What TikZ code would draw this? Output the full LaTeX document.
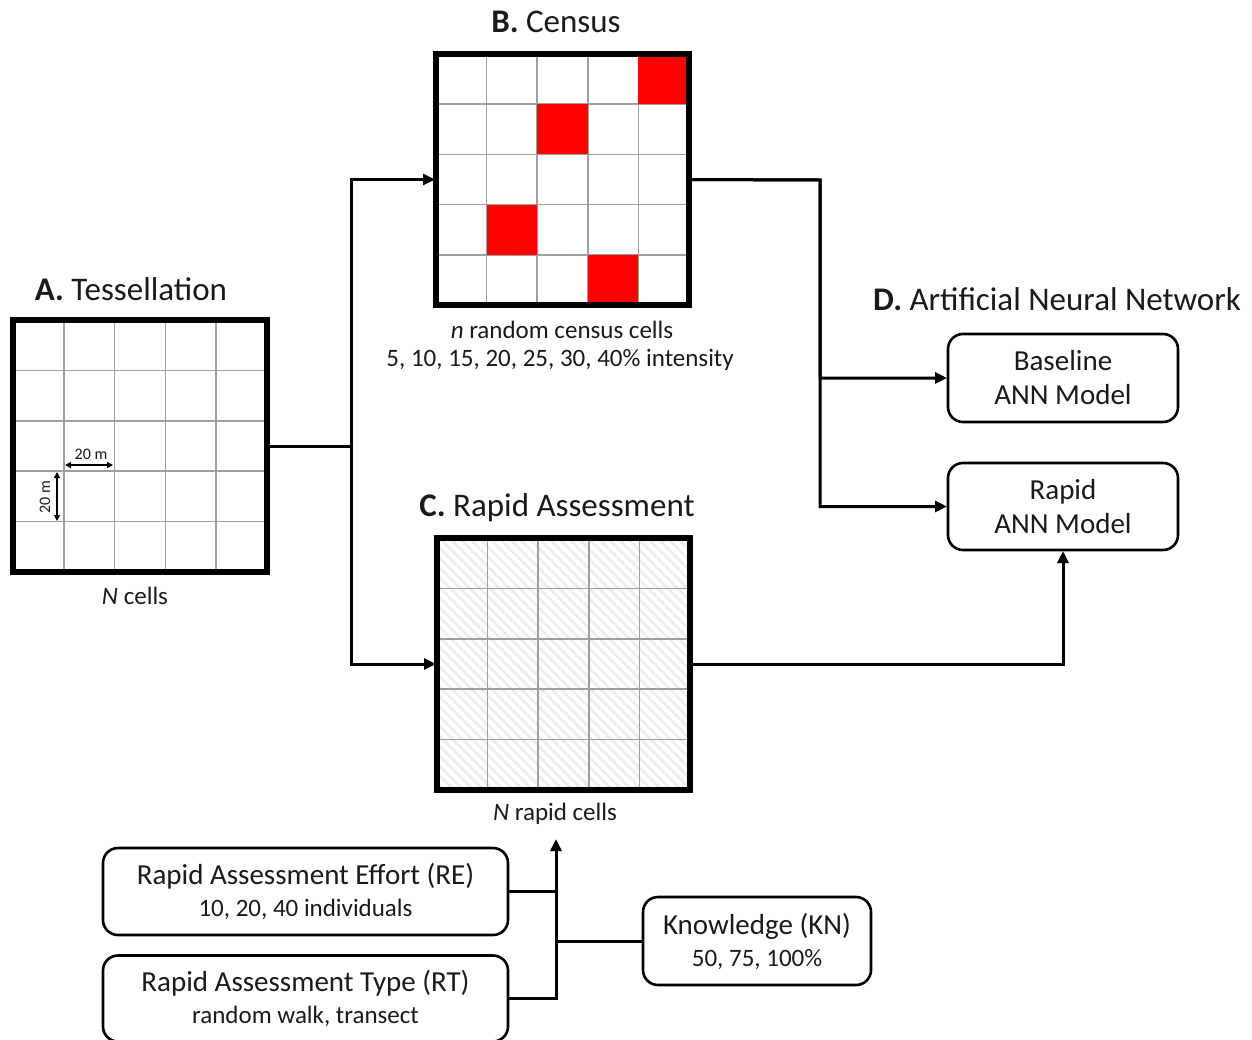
\documentclass[tikz,border=0pt]{standalone}
\usepackage{fontspec}
\setmainfont{Carlito}
\usetikzlibrary{arrows.meta,patterns.meta,calc}
\definecolor{txt}{HTML}{1A1A1A}
\begin{document}
\begin{tikzpicture}[x=1pt,y=-1pt,
  every node/.style={text=txt},
  conn/.style={line width=3pt},
  arr/.style={conn,-{Triangle[length=12pt,width=11pt]},shorten >=1pt},
  frame/.style={line width=5.5pt},
  gridbox/.style={inner sep=0pt,outer sep=0pt},
  gridl/.style={draw=gray!75,line width=1.6pt},
  rbox/.style={draw,line width=2.6pt,rounded corners=15pt,align=center,inner sep=0pt,outer sep=0pt},
  titletext/.style={font=\fontsize{33}{38}\selectfont},
  captext/.style={font=\fontsize{25}{30}\selectfont},
  bigtext/.style={font=\fontsize{29}{34}\selectfont},
  boxtext/.style={font=\fontsize{29}{32}\selectfont},
  dimtext/.style={font=\fontsize{16}{18}\selectfont},
  dimarrow/.style={line width=1.5pt,{Triangle[length=6pt,width=6pt]}-{Triangle[length=6pt,width=6pt]}},
  redcell/.style={fill=red}]
\useasboundingbox (0,0) rectangle (1252,1039);

% ---------- A. Tessellation ----------
\node[gridbox,minimum width=254pt,minimum height=252pt] (A) at (140,446) {};
\fill[white] (A.north west) rectangle (A.south east);
\foreach \i in {1,...,4}{
  \draw[gridl] ($(A.north west)+(\i*50.8,0)$) -- ++(0,252);
  \draw[gridl] ($(A.north west)+(0,\i*50.4)$) -- ++(254,0);
}
\draw[frame] (A.north west) rectangle (A.south east);
\node[titletext] (Atitle) at (131,289) {\textbf{A.} Tessellation};
\node[captext] (Acap) at (135,596) {\textit{N} cells};
\coordinate (dh1) at (65,465); \coordinate (dh2) at (113,465);
\draw[dimarrow] (dh1) -- (dh2);
\node[dimtext] (dhl) at (91,454) {20 m};
\coordinate (dv1) at (57,472); \coordinate (dv2) at (57,521);
\draw[dimarrow] (dv1) -- (dv2);
\node[dimtext,rotate=90] (dvl) at (45,497) {20 m};

% ---------- B. Census ----------
\node[gridbox,minimum width=253pt,minimum height=251pt] (B) at (562.5,179.5) {};
\fill[white] (B.north west) rectangle (B.south east);
\foreach \i in {1,...,4}{
  \draw[gridl] ($(B.north west)+(\i*50.6,0)$) -- ++(0,251);
  \draw[gridl] ($(B.north west)+(0,\i*50.2)$) -- ++(253,0);
}
\foreach \c/\r in {4/0,2/1,1/3,3/4}{
  \fill[redcell] ($(B.north west)+(\c*50.6,\r*50.2)$) rectangle ++(50.6,50.2);
}
\draw[frame] (B.north west) rectangle (B.south east);
\node[titletext] (Btitle) at (556,22) {\textbf{B.} Census};
\node[captext] (Bcap1) at (562,330) {\textit{n} random census cells};
\node[captext] (Bcap2) at (560,360) {5, 10, 15, 20, 25, 30, 40\% intensity};

% ---------- C. Rapid Assessment ----------
\node[gridbox,minimum width=253pt,minimum height=252pt] (C) at (563.5,664) {};
\fill[white] (C.north west) rectangle (C.south east);
\fill[pattern={Lines[angle=-45,distance=7pt,line width=2.6pt]},pattern color=gray!14]
  (C.north west) rectangle (C.south east);
\foreach \i in {1,...,4}{
  \draw[gridl] ($(C.north west)+(\i*50.6,0)$) -- ++(0,252);
  \draw[gridl] ($(C.north west)+(0,\i*50.4)$) -- ++(253,0);
}
\draw[frame] (C.north west) rectangle (C.south east);
\node[titletext] (Ctitle) at (557,508) {\textbf{C.} Rapid Assessment};
\node[captext] (Ccap) at (555,814) {\textit{N} rapid cells};

% ---------- D. ANN ----------
\node[titletext] (Dtitle) at (1057,299) {\textbf{D.} Artificial Neural Network};
\node[rbox,bigtext,minimum width=230pt,minimum height=88pt] (base) at (1063,378) {Baseline\\ANN Model};
\node[rbox,bigtext,minimum width=230pt,minimum height=87pt] (rapid) at (1063,506.5) {Rapid\\ANN Model};

% ---------- bottom boxes ----------
\node[rbox,boxtext,minimum width=405pt,minimum height=87pt] (RE) at (305.5,891.5)
  {Rapid Assessment Effort (RE)\\{\fontsize{25}{32}\selectfont 10, 20, 40 individuals}};
\node[rbox,boxtext,minimum width=405pt,minimum height=86pt] (RT) at (305.5,998.5)
  {Rapid Assessment Type (RT)\\{\fontsize{25}{32}\selectfont random walk, transect}};
\node[rbox,boxtext,minimum width=228pt,minimum height=88pt] (KN) at (757,941)
  {Knowledge (KN)\\{\fontsize{25}{32}\selectfont 50, 75, 100\%}};

% ---------- connectors ----------
\coordinate (j1) at (351,446);
\draw[arr] (A.east) -- (j1) |- (B.west);
\draw[arr] (A.east) -- (j1) |- (C.west);
\coordinate (j2) at (820,180);
\draw[arr] (B.east) -- (j2) |- (base.west);
\draw[arr] (B.east) -- (j2) |- (rapid.west);
\draw[arr] (C.east) -| (rapid.south);
\coordinate (nrtip) at (556,838);
\draw[arr] (RT.east) -| (nrtip);
\draw[conn] (RE.east) -- (RE.east -| nrtip);
\draw[conn] (KN.west) -- (KN.west -| nrtip);
\end{tikzpicture}
\end{document}
